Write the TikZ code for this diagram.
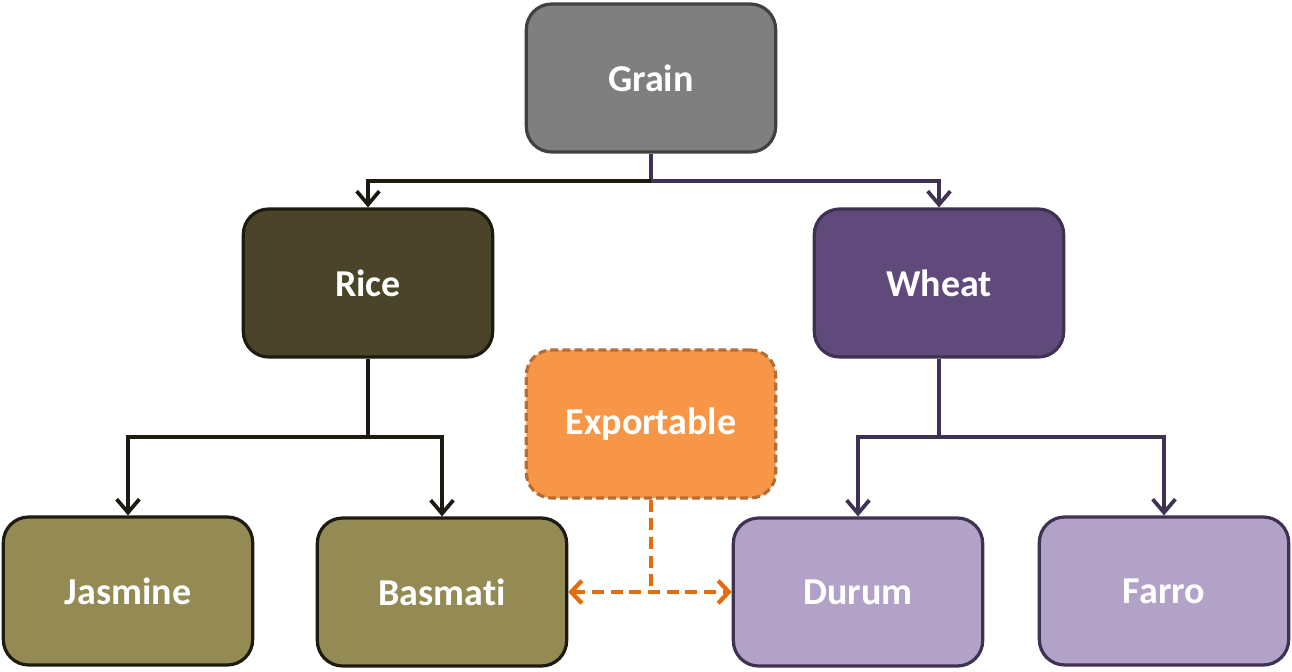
\documentclass[tikz,border=0pt]{standalone}
\usepackage{fontspec}
\setmainfont{Carlito}[RawFeature=-liga]
\usetikzlibrary{arrows.meta}
\definecolor{grainfill}{HTML}{7F7F7F}
\definecolor{grainline}{HTML}{404040}
\definecolor{ricefill}{HTML}{4A452A}
\definecolor{riceline}{HTML}{1D1B10}
\definecolor{sortfill}{HTML}{948A54}
\definecolor{wheatfill}{HTML}{604A7B}
\definecolor{wheatline}{HTML}{3F3151}
\definecolor{kindfill}{HTML}{B2A2C7}
\definecolor{exportfill}{HTML}{F79646}
\definecolor{exportline}{HTML}{B66D31}
\definecolor{exportarrow}{HTML}{E46C0A}
\tikzset{
    box/.style={rounded corners=19pt, line width=2.4pt, minimum width=187pt,
        minimum height=111pt, text=white, font=\fontsize{28.5}{32}\selectfont\bfseries},
    stem/.style={line width=2.8pt},
    link/.style={line width=2.8pt, -{Straight Barb[length=10pt, width=17pt, line width=2.8pt]}}
}
\begin{document}
\begin{tikzpicture}[x=0.75pt, y=-0.75pt]
    \useasboundingbox (0,0) rectangle (1292,671);
    % Oberste Ebene
    \node[box, fill=grainfill, draw=grainline] (grain) at (651,78) {Grain};
    % Zweite Ebene
    \node[box, fill=ricefill, draw=riceline] (rice) at (368,283) {Rice};
    \node[box, fill=wheatfill, draw=wheatline] (wheat) at (939,283) {Wheat};
    % Sorten
    \node[box, fill=sortfill, draw=riceline] (jasmine) at (128,591) {Jasmine};
    \node[box, fill=sortfill, draw=riceline] (basmati) at (442,592) {Basmati};
    \node[box, fill=kindfill, draw=wheatline] (durum) at (858,592) {Durum};
    \node[box, fill=kindfill, draw=wheatline] (farro) at (1164,591) {Farro};
    % Export
    \node[box, fill=exportfill, draw=exportline, dash pattern=on 6pt off 3pt] (export) at (651,424) {Exportable};
    % Verbindungen
    \coordinate (grainsplit) at (651,181);
    \coordinate (ricesplit) at (368,437);
    \coordinate (wheatsplit) at (939,437);
    \draw[stem, wheatline] (grain.south) -- (grainsplit);
    \draw[link, riceline] (grainsplit) -| (rice.north);
    \draw[link, wheatline] (grainsplit) -| (wheat.north);
    \draw[stem, riceline] (rice.south) -- (ricesplit);
    \draw[link, riceline] (ricesplit) -| (jasmine.north);
    \draw[link, riceline] (ricesplit) -| (basmati.north);
    \draw[stem, wheatline] (wheat.south) -- (wheatsplit);
    \draw[link, wheatline] (wheatsplit) -| (durum.north);
    \draw[link, wheatline] (wheatsplit) -| (farro.north);
    % gestrichelte Pfeile
    \draw[line width=3.2pt, exportarrow, dash pattern=on 9pt off 5pt] (export.south) -- (export.south |- basmati.east);
    \draw[line width=3.2pt, exportarrow, dash pattern=on 9pt off 5pt,
        {Straight Barb[length=8pt, width=17pt, line width=3.2pt]}-{Straight Barb[length=8pt, width=17pt, line width=3.2pt]}]
        (basmati.east) -- (durum.west);
\end{tikzpicture}
\end{document}
